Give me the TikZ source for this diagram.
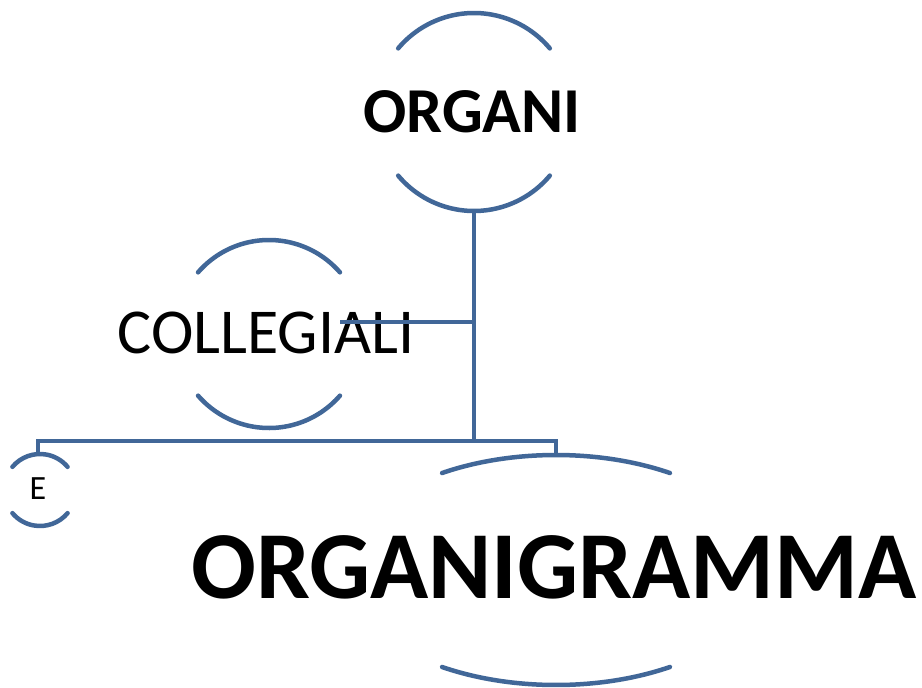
\documentclass[tikz,border=0pt]{standalone}
\usepackage{fontspec}
\setmainfont{Carlito}
\definecolor{arccol}{RGB}{65,103,152}
\begin{document}
\begin{tikzpicture}[x=1pt,y=-1pt,
  arcline/.style={draw=arccol,line width=4.5pt,line cap=round},
  conn/.style={draw=arccol,line width=4.5pt},
  lbl/.style={anchor=base,inner sep=0pt,text=black}]
\useasboundingbox[fill=white] (0,0) rectangle (922,688);
% circle centres
\coordinate (oc) at (474,112);
\coordinate (cc) at (269,334);
\coordinate (ec) at (40,490);
\coordinate (gc) at (556,570);
% labels
\node[lbl,font=\bfseries\fontsize{64}{70}\selectfont] (org) at (472,132) {ORGANI};
\node[lbl,font=\fontsize{64}{70}\selectfont] (col) at (266,353) {COLLEGIALI};
\node[lbl,font=\fontsize{34}{38}\selectfont] (e) at (38,499) {E};
\node[lbl,font=\bfseries\fontsize{96}{100}\selectfont] (gram) at (554,598) {ORGANIGRAMMA};
% arcs
\draw[arcline] (oc) ++(220:99) arc[start angle=220,end angle=320,radius=99];
\draw[arcline] (oc) ++(40:99) arc[start angle=40,end angle=140,radius=99];
\draw[arcline] (cc) ++(221:94) arc[start angle=221,end angle=319,radius=94];
\draw[arcline] (cc) ++(41:94) arc[start angle=41,end angle=139,radius=94];
\draw[arcline] (ec) ++(220:36) arc[start angle=220,end angle=320,radius=36];
\draw[arcline] (ec) ++(40:36) arc[start angle=40,end angle=140,radius=36];
\draw[arcline] (gc) ++(237.5:212 and 115) arc[start angle=237.5,end angle=302.5,x radius=212,y radius=115];
\draw[arcline] (gc) ++(57.5:212 and 115) arc[start angle=57.5,end angle=122.5,x radius=212,y radius=115];
% connector points
\coordinate (ob) at (474,211);
\coordinate (j) at (474,441);
\coordinate (cr) at (340,322);
\coordinate (et) at (38,454);
\coordinate (gt) at (556,455);
% connectors
\draw[conn] (ob) -- (j);
\draw[conn] (cr) -- (cr -| ob);
\draw[conn] (et) -- (et |- j) -- (gt |- j) -- (gt);
\end{tikzpicture}
\end{document}
